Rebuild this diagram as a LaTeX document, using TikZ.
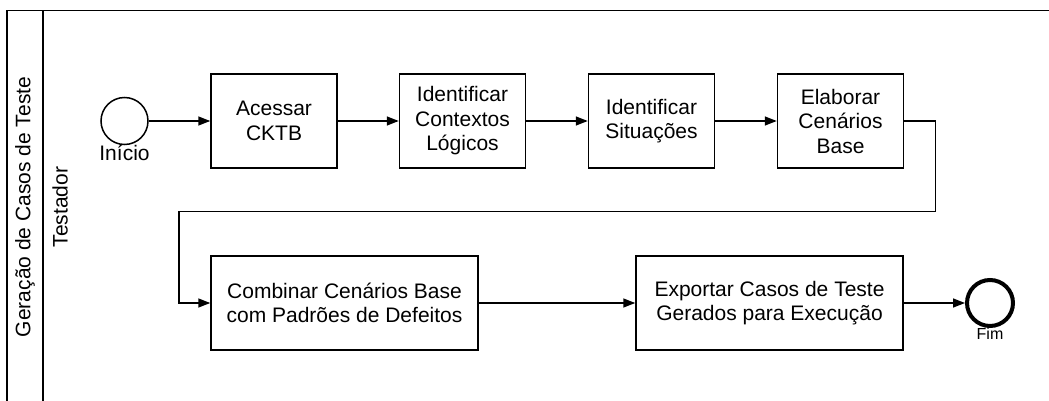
\documentclass[tikz,border=0pt]{standalone}
\usepackage{fontspec}
\setmainfont{Liberation Sans}
\usetikzlibrary{arrows.meta}
\begin{document}
\begin{tikzpicture}[x=1pt,y=-1pt,line width=1.5pt,
  font=\fontsize{21}{24.5}\selectfont,
  tarefa/.style={draw,align=center,minimum width=126,minimum height=94,inner sep=0pt},
  tarefalarga/.style={tarefa,minimum width=267},
  fluxo/.style={-{Triangle[length=12pt,width=9pt]}},
  evento/.style={draw,circle,minimum size=47,inner sep=0pt}]
\useasboundingbox (0,0) rectangle (1049,401);
% raia
\draw (1060,10.7) -- (7,10.7) -- (7,420);
\draw (43,10.7) -- (43,420);
\node[rotate=90] (pool) at (25,207) {Geração de Casos de Teste};
\node[rotate=90] (lane) at (60,207) {Testador};
% eventos
\node[evento] (inicio) at (124.5,121) {};
\node[anchor=north] (lblinicio) at (124.5,141) {Início};
\node[evento,line width=4pt,minimum size=46] (fim) at (990,303) {};
\node[anchor=north,font=\fontsize{16}{18}\selectfont] (lblfim) at (990,324) {Fim};
% tarefas
\node[tarefa] (acessar) at (274,121) {Acessar\\CKTB};
\node[tarefa] (contextos) at (462.5,121) {Identificar\\Contextos\\Lógicos};
\node[tarefa] (situacoes) at (651.5,121) {Identificar\\Situações};
\node[tarefa] (cenarios) at (840.5,121) {Elaborar\\Cenários\\Base};
\node[tarefalarga] (combinar) at (344.5,303) {Combinar Cenários Base\\com Padrões de Defeitos};
\node[tarefalarga] (exportar) at (769.5,303) {Exportar Casos de Teste\\Gerados para Execução};
% fluxos
\draw[fluxo] (inicio) -- (acessar);
\draw[fluxo] (acessar) -- (contextos);
\draw[fluxo] (contextos) -- (situacoes);
\draw[fluxo] (situacoes) -- (cenarios);
\draw[fluxo] (cenarios.east) -- ++(31,0) |- (179,211.7) |- (combinar.west);
\draw[fluxo] (combinar) -- (exportar);
\draw[fluxo] (exportar) -- (fim);
\end{tikzpicture}
\end{document}
